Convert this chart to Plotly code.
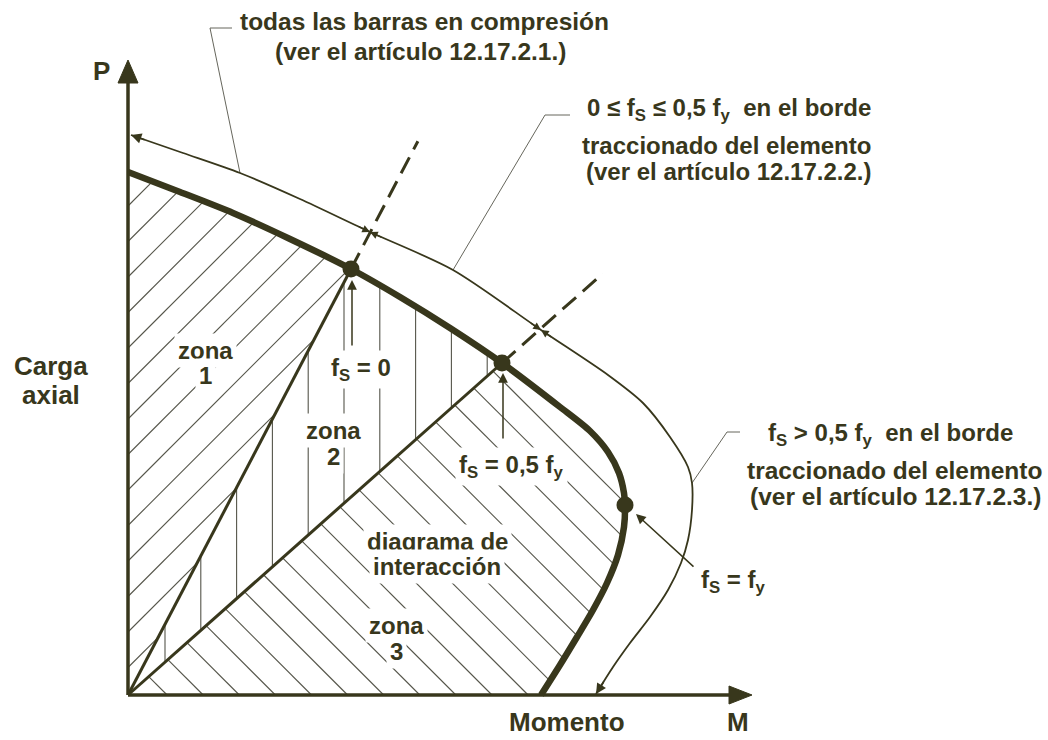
import numpy as np
import plotly.graph_objects as go

# ---------------- data (arbitrary units: M = moment, P = axial load) ----------------
curve_M = [0, 52, 105, 162, 223, 272, 322, 374, 432, 462, 480, 491, 496, 497, 496, 490, 479, 465, 449, 432, 413]
curve_P = [523, 503, 482, 456, 426, 398, 367, 332, 288, 264, 243, 222, 202, 190, 168, 140, 112, 85, 58, 30, 0]

env_M = [3, 55, 112, 172, 242, 325, 413, 480, 515, 542, 560, 564, 564, 560, 553, 540, 522, 502, 485, 468]
env_P = [560, 542, 522, 496, 463, 425, 365, 320, 292, 258, 228, 212, 185, 155, 132, 105, 78, 52, 28, 1]

key_names = ["fs = 0", "fs = 0,5 fy", "fs = fy"]
key_M = [223, 374, 497]
key_P = [426, 332, 190]

radial_reach = [1.30, 1.27]          # dashed extension of the radial lines (factor of key point)
env_cross_idx = [4, 6]               # envelope points crossed by the dashed radial lines
leader_env_idx = [2, 5, 11]          # envelope points where the label leaders attach

hatch1_spacing, hatch1_offset = 35.5, 27.5   # zone 1, "/" hatch
hatch2_spacing, hatch2_offset = 35.8, 37.0   # zone 2, vertical hatch
hatch3_spacing, hatch3_offset = 36.1, 3.0    # zone 3, "\" hatch

M_axis_end, P_axis_end = 624, 635

# ---------------- styling ----------------
INK = "#38371c"
HATCH = "#55554a"
LEAD = "#66665c"
FONT = "Liberation Sans, Arial, sans-serif"

curve = np.column_stack([curve_M, curve_P]).astype(float)
env = np.column_stack([env_M, env_P]).astype(float)
keys = np.column_stack([key_M, key_P]).astype(float)
iA = int(np.argmin(np.hypot(*(curve - keys[0]).T)))
iB = int(np.argmin(np.hypot(*(curve - keys[1]).T)))
origin = np.array([0.0, 0.0])

poly1 = np.vstack([origin, curve[iA::-1]])
poly2 = np.vstack([origin, curve[iB:iA - 1:-1]])
poly3 = np.vstack([origin, curve[:iB - 1:-1]])


def clip(p0, d, poly):
    ts = []
    n = len(poly)
    for i in range(n):
        a, b = poly[i], poly[(i + 1) % n]
        e = b - a
        det = -d[0] * e[1] + e[0] * d[1]
        if abs(det) < 1e-12:
            continue
        r = a - p0
        t = (r[0] * (-e[1]) + e[0] * r[1]) / det
        s = (d[0] * r[1] - d[1] * r[0]) / det
        if 0 <= s < 1:
            ts.append(t)
    ts.sort()
    segs = []
    for k in range(0, len(ts) - 1, 2):
        segs.append((p0 + ts[k] * d, p0 + ts[k + 1] * d))
    return segs


hx, hy = [], []


def add_family(poly, starts, d):
    for p0 in starts:
        for a, b in clip(np.array(p0, float), np.array(d, float), poly):
            hx.extend([a[0], b[0], None])
            hy.extend([a[1], b[1], None])


add_family(poly1, [(0, hatch1_offset + k * hatch1_spacing) for k in range(-20, 20)], (1, 1))
add_family(poly2, [(hatch2_offset + k * hatch2_spacing, 0) for k in range(0, 20)], (0, 1))
add_family(poly3, [(hatch3_offset + k * hatch3_spacing, 0) for k in range(0, 30)], (-1, 1))

fig = go.Figure()
fig.add_trace(go.Scatter(x=hx, y=hy, mode="lines", line=dict(color=HATCH, width=1.1), hoverinfo="skip"))

# leader lines
lead_elbows = [(82, 667, 104), (417, 580, 442), (599, 263, 612)]
lx, ly = [], []
for idx, (ex, ey, endx) in zip(leader_env_idx, lead_elbows):
    lx += [env[idx, 0], ex, endx, None]
    ly += [env[idx, 1], ey, ey, None]
fig.add_trace(go.Scatter(x=lx, y=ly, mode="lines", line=dict(color=LEAD, width=1), hoverinfo="skip"))

# envelope
fig.add_trace(go.Scatter(x=env_M, y=env_P, mode="lines",
                         line=dict(color=INK, width=1.8, shape="spline", smoothing=0.8),
                         hoverinfo="skip"))

# radial solid lines
rx, ry = [], []
for k in range(2):
    rx += [0, key_M[k], None]
    ry += [0, key_P[k], None]
fig.add_trace(go.Scatter(x=rx, y=ry, mode="lines", line=dict(color=INK, width=3), hoverinfo="skip"))
# dashed extensions
dx, dy = [], []
for k in range(2):
    dx += [key_M[k], key_M[k] * radial_reach[k], None]
    dy += [key_P[k], key_P[k] * radial_reach[k], None]
fig.add_trace(go.Scatter(x=dx, y=dy, mode="lines", line=dict(color=INK, width=3, dash="18px,9px"),
                         hoverinfo="skip"))

# interaction curve
fig.add_trace(go.Scatter(x=curve_M, y=curve_P, mode="lines",
                         line=dict(color=INK, width=6.5, shape="spline", smoothing=0.8),
                         hoverinfo="skip"))

# axes
fig.add_trace(go.Scatter(x=[0, 0, None, 0, M_axis_end - 20], y=[P_axis_end - 20, 0, None, 0, 0], mode="lines",
                         line=dict(color=INK, width=3.5), hoverinfo="skip"))
fig.add_trace(go.Scatter(x=[0, -10, 10, 0], y=[P_axis_end, P_axis_end - 23, P_axis_end - 23, P_axis_end],
                         fill="toself", fillcolor=INK, mode="lines", line=dict(color=INK, width=1),
                         hoverinfo="skip"))
fig.add_trace(go.Scatter(x=[M_axis_end, M_axis_end - 23, M_axis_end - 23, M_axis_end], y=[0, 9, -9, 0],
                         fill="toself", fillcolor=INK, mode="lines", line=dict(color=INK, width=1),
                         hoverinfo="skip"))

# key points
fig.add_trace(go.Scatter(x=key_M, y=key_P, mode="markers", marker=dict(color=INK, size=17),
                         text=key_names, hoverinfo="text"))

ann = []


def arrow(tip, tail, width=1.5, head=2, size=1.3):
    ann.append(dict(x=tip[0], y=tip[1], ax=tail[0], ay=tail[1], xref="x", yref="y", axref="x", ayref="y",
                    text="", showarrow=True, arrowhead=head, arrowsize=size, arrowwidth=width,
                    arrowcolor=INK, standoff=0, startstandoff=0))


# envelope end arrows
for tip_i, nb_i in [(0, 1), (len(env) - 1, len(env) - 2)]:
    tip = env[tip_i]
    v = env[nb_i] - tip
    v = v / np.hypot(*v)
    arrow(tip, tip + 16 * v, width=1.6)
# dimension arrows where dashed lines cross the envelope
for i in env_cross_idx:
    tip = env[i]
    for nb in (i - 1, i + 1):
        v = env[nb] - tip
        v = v / np.hypot(*v)
        arrow(tip, tip + 14 * v, width=1.4, head=2, size=1.1)

# pointers to key points
arrow((key_M[0] + 1, key_P[0] - 11), (key_M[0] + 1, key_P[0] - 78))
arrow((key_M[1] + 1, key_P[1] - 10), (key_M[1] + 1, key_P[1] - 77))
arrow((key_M[2] + 11, key_P[2] - 9), (key_M[2] + 70, key_P[2] - 63))


def label(x, y, t, size=24, bg=None, xanchor="center", pad=1):
    d = dict(x=x, y=y, xref="x", yref="y", text="<b>" + t + "</b>", showarrow=False,
             font=dict(family=FONT, size=size, color=INK), xanchor=xanchor, yanchor="middle",
             borderpad=pad)
    if bg:
        d["bgcolor"] = bg
    ann.append(d)


fS = "f<sub>S</sub>"
fy = "f<sub>y</sub>"
label(-27, 624, "P", 26)
label(610, -27, "M", 26)
label(439, -27, "Momento", 26)
label(-77, 329, "Carga", 26)
label(-77, 300, "axial", 26)

label(296, 674, "todas las barras en compresión", 24.5)
label(292, 644, "(ver el artículo 12.17.2.1.)", 24.5)

label(601, 586, "0 ≤ " + fS + " ≤ 0,5 " + fy + "  en el borde")
label(598, 550, "traccionado del elemento")
label(600, 524, "(ver el artículo 12.17.2.2.)")

label(762, 261, fS + " &gt; 0,5 " + fy + "  en el borde")
label(766, 225, "traccionado del elemento", 24.5)
label(767, 199, "(ver el artículo 12.17.2.3.)", 24.5)

W = "white"
label(77, 345, "zona", bg=W, pad=3)
label(77, 320, "1", bg=W, pad=3)
label(233, 326, fS + " = 0", bg=W, pad=3)
label(205, 265, "zona", bg=W, pad=3)
label(205, 239, "2", bg=W, pad=3)
label(383, 229, fS + " = 0,5 " + fy, bg=W, pad=3)
label(309, 154, "diagrama de", bg=W, pad=3)
label(309, 129, "interacción", bg=W, pad=3)
label(268, 70, "zona", bg=W, pad=3)
label(268, 44, "3", bg=W, pad=3)
label(605, 114, fS + " = " + fy, bg=W, pad=3)

fig.update_layout(
    width=1048, height=740, margin=dict(l=0, r=0, t=0, b=0),
    paper_bgcolor="white", plot_bgcolor="white", showlegend=False,
    xaxis=dict(range=[-128, 920], visible=False, fixedrange=True),
    yaxis=dict(range=[-45, 695], visible=False, fixedrange=True),
    annotations=ann,
)

fig.write_html("out.html", config={"displayModeBar": False},
               post_script="document.body.style.margin='0';document.body.style.overflow='hidden';")
